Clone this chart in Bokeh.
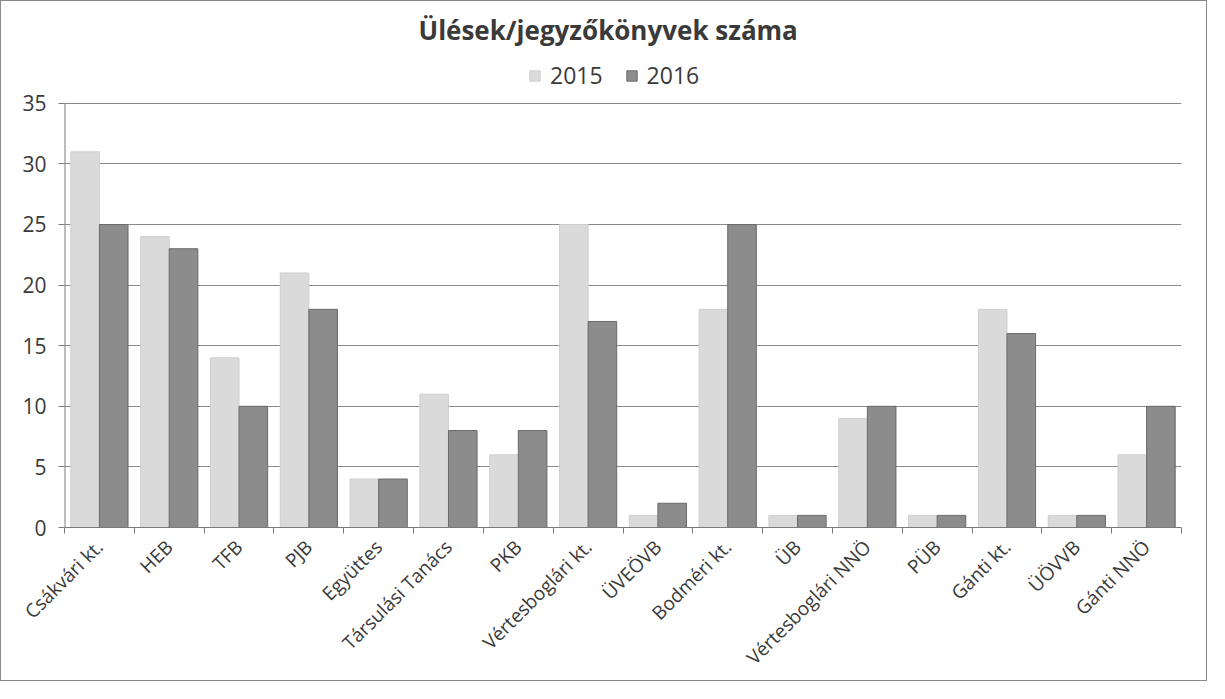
from bokeh.plotting import figure
from bokeh.models import (ColumnDataSource, FixedTicker, Legend, LegendItem, Range1d)
from bokeh.embed import file_html
from bokeh.resources import INLINE

categories = ["Csákvári kt.", "HEB", "TFB", "PJB", "Együttes", "Társulási Tanács",
              "PKB", "Vértesboglári kt.", "ÜVEÖVB", "Bodméri kt.", "ÜB",
              "Vértesboglári NNÖ", "PÜB", "Gánti kt.", "ÜÖVVB", "Gánti NNÖ"]
v2015 = [31, 24, 14, 21, 4, 11, 6, 25, 1, 18, 1, 9, 1, 18, 1, 6]
v2016 = [25, 23, 10, 18, 4, 8, 8, 17, 2, 25, 1, 10, 1, 16, 1, 10]
series_names = ["2015", "2016"]
y_ticks = [0, 5, 10, 15, 20, 25, 30, 35]
title_text = "Ülések/jegyzőkönyvek száma"

FONT = "Open Sans"
n = len(categories)
centers = [i + 0.5 for i in range(n)]
bw = 0.41

# frame: top at page y=60, value 35 at y=110, value 0 at y=536
FRAME_H = 476
y_top = 35 * FRAME_H / 426.0

src = ColumnDataSource(dict(
    x1=[c - bw / 2 for c in centers],
    x2=[c + bw / 2 for c in centers],
    v2015=v2015, v2016=v2016,
))

p = figure(width=1207, height=681, output_backend="svg", toolbar_location=None,
           x_range=Range1d(0, n), y_range=Range1d(0, y_top),
           min_border_left=63, min_border_right=27, min_border_bottom=153,
           min_border_top=52)
p.styles = {"border": "1px solid #8a8a8a"}

r1 = p.vbar(x="x1", top="v2015", width=bw, source=src, fill_color="#dadada",
            line_color="#cfcfcf", line_width=1)
r2 = p.vbar(x="x2", top="v2016", width=bw, source=src, fill_color="#8c8c8c",
            line_color="#6a6a6a", line_width=1)

# y axis line only from 0 to 35
p.segment(x0=[0], y0=[0], x1=[0], y1=[y_ticks[-1]], line_color="#7a7a7a", line_width=2)

p.title.text = title_text
p.title.align = "left"
p.title.text_font = FONT
p.title.text_font_size = "26px"
p.title.text_font_style = "bold"
p.title.text_color = "#3a3a3a"
p.title.offset = 354
p.title.standoff = 11

legend = Legend(items=[LegendItem(label=series_names[0], renderers=[r1]),
                       LegendItem(label=series_names[1], renderers=[r2])],
                orientation="horizontal", location=(464, FRAME_H - 40),
                label_text_font=FONT, label_text_font_size="23px",
                label_text_color="#3a3a3a", glyph_width=13, glyph_height=13,
                border_line_color=None, background_fill_alpha=0,
                spacing=22, padding=2, margin=0, label_standoff=9)
p.add_layout(legend)

# x axis
p.xaxis.ticker = FixedTicker(ticks=centers, minor_ticks=list(range(n + 1)))
p.xaxis.major_label_overrides = {c: lab for c, lab in zip(centers, categories)}
p.xaxis.major_label_orientation = 0.785398
p.xaxis.major_tick_in = 0
p.xaxis.major_tick_out = 0
p.xaxis.minor_tick_in = 0
p.xaxis.minor_tick_out = 6
p.xaxis.minor_tick_line_color = "#7a7a7a"
p.xaxis.axis_line_color = "#7a7a7a"
p.xaxis.major_label_text_font = FONT
p.xaxis.major_label_text_font_size = "19px"
p.xaxis.major_label_text_color = "#3a3a3a"
p.xaxis.major_label_standoff = 10

# y axis
p.yaxis.ticker = FixedTicker(ticks=y_ticks)
p.yaxis.major_tick_in = 0
p.yaxis.major_tick_out = 6
p.yaxis.minor_tick_line_color = None
p.yaxis.axis_line_color = None
p.yaxis.major_tick_line_color = "#7a7a7a"
p.yaxis.major_label_text_font = FONT
p.yaxis.major_label_text_font_size = "21px"
p.yaxis.major_label_text_color = "#3a3a3a"
p.yaxis.major_label_standoff = 12

p.xgrid.grid_line_color = None
p.ygrid.grid_line_color = "#8a8a8a"
p.ygrid.grid_line_width = 1
p.outline_line_color = None

open("out.html", "w").write(file_html(p, INLINE))
